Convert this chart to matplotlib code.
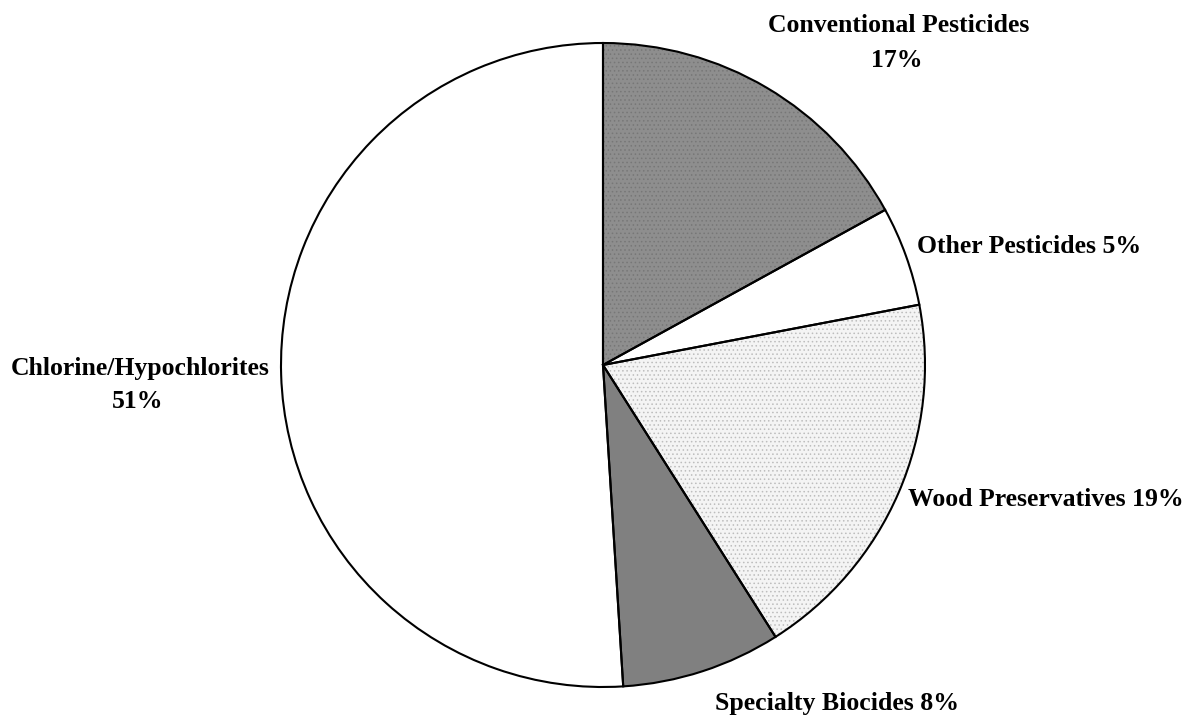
import matplotlib
matplotlib.use('Agg')
import matplotlib.pyplot as plt

# slice data, clockwise from 12 o'clock
categories = ['Conventional Pesticides', 'Other Pesticides', 'Wood Preservatives',
              'Specialty Biocides', 'Chlorine/Hypochlorites']
shares = [17, 5, 19, 8, 51]

plt.rcParams['font.family'] = ['Liberation Serif', 'DejaVu Serif']
plt.rcParams['hatch.linewidth'] = 0.6

W, H = 1186, 715
fig = plt.figure(figsize=(W / 100, H / 100), dpi=100)

cx, cy, r = 603, 365, 322
ax = fig.add_axes([(cx - r) / W, (H - cy - r) / H, 2 * r / W, 2 * r / H])

fills = ['#8e8e8e', 'white', '#f4f4f4', '#808080', 'white']
hatches = ['....', None, '....', None, None]
hatch_cols = ['#777777', 'white', '#bdbdbd', '#808080', 'white']

# fill layer (with dotted textures)
wedges, _ = ax.pie(shares, startangle=90, counterclock=False, colors=fills,
                   wedgeprops=dict(linewidth=0))
for w, h, hc in zip(wedges, hatches, hatch_cols):
    if h:
        w.set_hatch(h)
        w.set_edgecolor(hc)

# outline layer
ax.pie(shares, startangle=90, counterclock=False,
       wedgeprops=dict(fill=False, edgecolor='black', linewidth=1.5))
ax.set_xlim(-1.0, 1.0)
ax.set_ylim(-1.0, 1.0)
ax.axis('off')


def put(x, y, s, ha='center'):
    # y is the baseline in pixels from the top
    fig.text(x / W, 1 - y / H, s, ha=ha, va='baseline', fontsize=18.5,
             fontweight='bold')


put(899, 32, categories[0])
put(897, 67, f'{shares[0]}%')
put(917, 253, f'{categories[1]} {shares[1]}%', ha='left')
put(908, 506, f'{categories[2]} {shares[2]}%', ha='left')
put(715, 710, f'{categories[3]} {shares[3]}%', ha='left')
put(140, 375, categories[4])
put(138, 408, f'{shares[4]}%')

fig.savefig('out.png', dpi=100)
